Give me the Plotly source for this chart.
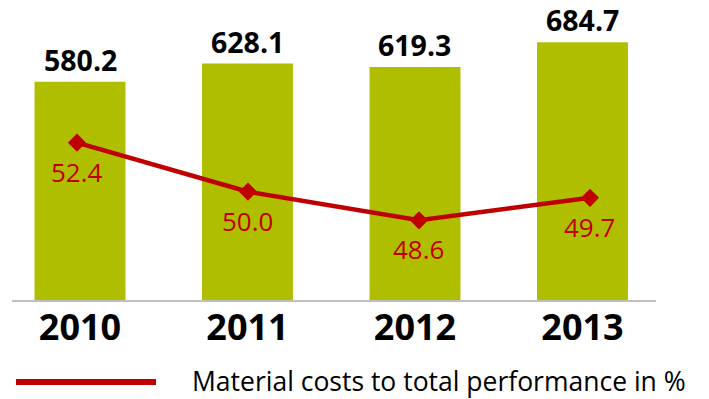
import plotly.graph_objects as go

years = ["2010", "2011", "2012", "2013"]
costs = [580.2, 628.1, 619.3, 684.7]
ratio = [52.4, 50.0, 48.6, 49.7]
legend_label = "Material costs to total performance in %"

GREEN = "#AFBF00"
RED = "#C00000"
FONT = "Open Sans"

xs = list(range(len(years)))

fig = go.Figure()
fig.add_trace(go.Bar(
    x=xs, y=costs, width=0.543, marker=dict(color=GREEN, line=dict(width=0)),
    xaxis="x", yaxis="y", showlegend=False, hoverinfo="skip"))
fig.add_trace(go.Scatter(
    x=xs, y=ratio, mode="lines+markers", name=legend_label,
    line=dict(color=RED, width=4.5),
    marker=dict(symbol="diamond", size=14, color=RED),
    xaxis="x2", yaxis="y2", showlegend=False))

ann = []
for i, v in enumerate(costs):
    ann.append(dict(x=xs[i], y=v, xref="x", yref="y", text=f"<b>{v:.1f}</b>",
                    showarrow=False, yanchor="bottom", yshift=1,
                    font=dict(family=FONT, size=28.5, color="#000000")))
for i, v in enumerate(ratio):
    ann.append(dict(x=xs[i], y=v, xref="x2", yref="y2", text=f"{v:.1f}",
                    showarrow=False, yanchor="top", yshift=-9,
                    font=dict(family=FONT, size=26, color=RED)))

W, H = 709, 399
pl, pr, pt, pb = 12, 53, 20, 99
def px_x(p): return (p - pl) / (W - pl - pr)
def px_y(p): return (H - pb - p) / (H - pt - pb)

ann.append(dict(x=px_x(190), y=px_y(381), xref="paper", yref="paper", text=legend_label,
                showarrow=False, xanchor="left", yanchor="middle",
                font=dict(family=FONT, size=26.5, color="#000000")))

fig.update_layout(
    width=W, height=H,
    margin=dict(l=pl, r=pr, t=pt, b=pb),
    paper_bgcolor="white", plot_bgcolor="white",
    xaxis=dict(range=[-0.406, 3.439], tickvals=xs,
               ticktext=[f"<b>{y}</b>" for y in years],
               tickfont=dict(family=FONT, size=36, color="#000000"),
               ticklabelstandoff=-5,
               showline=True, linecolor="#BFBFBF", linewidth=2,
               showgrid=False, zeroline=False, ticks="", ticklen=0),
    xaxis2=dict(range=[-0.380, 3.386], overlaying="x", visible=False),
    yaxis=dict(range=[0, 744], visible=False, showgrid=False, zeroline=False),
    yaxis2=dict(range=[44.7, 58.4], overlaying="y", visible=False),
    annotations=ann,
    showlegend=False,
)

# manual legend swatch
fig.add_shape(type="line", xref="paper", yref="paper",
              x0=px_x(16), x1=px_x(156), y0=px_y(382), y1=px_y(382),
              line=dict(color=RED, width=6))

fig.write_html("out.html")
